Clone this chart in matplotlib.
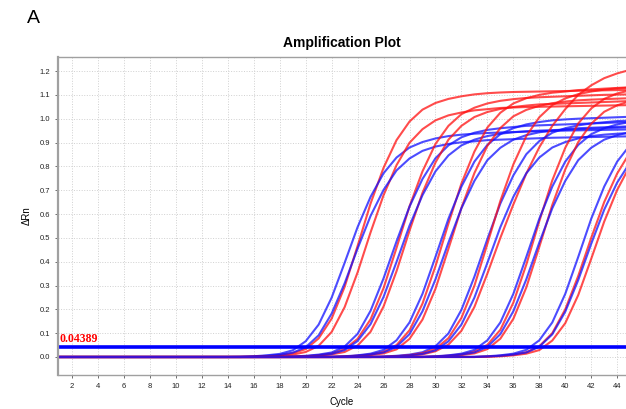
import numpy as np
import matplotlib
matplotlib.use('Agg')
import matplotlib.pyplot as plt

plt.rcParams['font.family'] = ['Liberation Sans', 'DejaVu Sans']

# cycles 1..45, each curve given from its first non-zero cycle up to cycle 45
cycles = list(range(1, 46))
threshold = 0.04389

# group 1
b1a = [0.001, 0.003, 0.007, 0.013, 0.028, 0.066, 0.136, 0.249, 0.395, 0.545,
       0.672, 0.771, 0.837, 0.879, 0.902, 0.917, 0.927, 0.933, 0.937, 0.940,
       0.942, 0.944, 0.946, 0.947, 0.948, 0.950, 0.951, 0.952, 0.953, 0.954, 0.955]
b1b = [0.002, 0.005, 0.009, 0.018, 0.041, 0.091, 0.182, 0.309, 0.455, 0.592,
       0.701, 0.783, 0.833, 0.865, 0.883, 0.894, 0.901, 0.905, 0.910, 0.912,
       0.914, 0.916, 0.918, 0.920, 0.921, 0.922, 0.923, 0.924, 0.925, 0.926]
r1a = [0.001, 0.003, 0.008, 0.016, 0.033, 0.078, 0.161, 0.294, 0.466, 0.644,
       0.794, 0.910, 0.988, 1.038, 1.066, 1.083, 1.094, 1.102, 1.107, 1.110,
       1.112, 1.113, 1.114, 1.115, 1.116, 1.117, 1.118, 1.119, 1.120, 1.120]
r1b = [0.002, 0.005, 0.010, 0.021, 0.047, 0.105, 0.209, 0.355, 0.523, 0.679,
       0.805, 0.899, 0.956, 0.993, 1.014, 1.026, 1.035, 1.040, 1.045, 1.047,
       1.049, 1.050, 1.051, 1.052, 1.053, 1.054, 1.055, 1.056, 1.057]
# group 2
b2a = [0.002, 0.005, 0.010, 0.019, 0.044, 0.097, 0.194, 0.330, 0.485, 0.631,
       0.747, 0.834, 0.888, 0.922, 0.941, 0.953, 0.960, 0.965, 0.970, 0.972,
       0.974, 0.976, 0.978, 0.980, 0.982, 0.984, 0.986]
b2b = [0.001, 0.003, 0.007, 0.013, 0.029, 0.067, 0.138, 0.252, 0.399, 0.551,
       0.679, 0.779, 0.846, 0.888, 0.912, 0.927, 0.937, 0.943, 0.947, 0.950,
       0.952, 0.954, 0.956, 0.958, 0.960, 0.962, 0.964]
r2a = [0.001, 0.003, 0.008, 0.015, 0.033, 0.076, 0.158, 0.289, 0.458, 0.632,
       0.779, 0.894, 0.970, 1.019, 1.046, 1.064, 1.075, 1.082, 1.087, 1.090,
       1.092, 1.094, 1.096, 1.098, 1.100, 1.101, 1.102]
r2b = [0.002, 0.005, 0.011, 0.021, 0.048, 0.106, 0.212, 0.360, 0.530, 0.689,
       0.816, 0.912, 0.970, 1.007, 1.028, 1.041, 1.049, 1.055, 1.060, 1.062,
       1.064, 1.066, 1.068, 1.070, 1.072, 1.074]
# group 3
b3a = [0.001, 0.003, 0.007, 0.014, 0.030, 0.070, 0.145, 0.265, 0.420, 0.580,
       0.715, 0.820, 0.890, 0.935, 0.960, 0.976, 0.986, 0.993, 0.997, 1.000,
       1.002, 1.004, 1.006, 1.008]
b3b = [0.002, 0.005, 0.010, 0.019, 0.043, 0.096, 0.192, 0.326, 0.480, 0.624,
       0.739, 0.826, 0.878, 0.912, 0.931, 0.943, 0.950, 0.955, 0.960, 0.962,
       0.964, 0.966, 0.968]
r3a = [0.002, 0.006, 0.011, 0.022, 0.050, 0.112, 0.224, 0.381, 0.560, 0.728,
       0.862, 0.963, 1.025, 1.064, 1.086, 1.100, 1.109, 1.114, 1.120, 1.123,
       1.126, 1.129, 1.132]
r3b = [0.001, 0.003, 0.008, 0.015, 0.032, 0.076, 0.157, 0.286, 0.454, 0.626,
       0.772, 0.886, 0.961, 1.010, 1.037, 1.054, 1.065, 1.072, 1.077, 1.080,
       1.082, 1.084, 1.086]
# group 4
b4a = [0.002, 0.005, 0.010, 0.020, 0.045, 0.099, 0.198, 0.337, 0.495, 0.644,
       0.762, 0.851, 0.906, 0.941, 0.960, 0.972, 0.980, 0.985, 0.990, 0.992]
b4b = [0.001, 0.003, 0.007, 0.013, 0.028, 0.066, 0.136, 0.249, 0.395, 0.545,
       0.672, 0.771, 0.837, 0.879, 0.902, 0.917, 0.927, 0.933, 0.937, 0.940]
r4a = [0.002, 0.005, 0.011, 0.024, 0.052, 0.110, 0.210, 0.350, 0.500, 0.640,
       0.770, 0.880, 0.970, 1.040, 1.100, 1.140, 1.170, 1.190, 1.205]
r4b = [0.001, 0.003, 0.008, 0.016, 0.034, 0.079, 0.164, 0.299, 0.475, 0.655,
       0.808, 0.927, 1.006, 1.057, 1.085, 1.103, 1.114, 1.122, 1.127, 1.130]
# group 5
b5a = [0.001, 0.003, 0.007, 0.014, 0.030, 0.070, 0.145, 0.265, 0.420, 0.580,
       0.715, 0.820, 0.890, 0.935, 0.960, 0.976, 0.986]
b5b = [0.002, 0.005, 0.010, 0.019, 0.043, 0.096, 0.192, 0.326, 0.480, 0.624,
       0.739, 0.826, 0.878, 0.912, 0.931, 0.943]
r5a = [0.002, 0.006, 0.011, 0.023, 0.051, 0.114, 0.228, 0.388, 0.570, 0.741,
       0.878, 0.980, 1.043, 1.083, 1.106, 1.119]
r5b = [0.001, 0.003, 0.008, 0.015, 0.033, 0.077, 0.160, 0.292, 0.462, 0.638,
       0.787, 0.902, 0.979, 1.029, 1.056, 1.074]
# group 6
b6a = [0.001, 0.003, 0.007, 0.014, 0.030, 0.070, 0.145, 0.265, 0.420, 0.580,
       0.715, 0.820, 0.890]
b6b = [0.002, 0.005, 0.010, 0.019, 0.043, 0.095, 0.190, 0.323, 0.475, 0.618,
       0.732, 0.817]
r6a = [0.002, 0.005, 0.010, 0.020, 0.045, 0.100, 0.200, 0.340, 0.500, 0.650,
       0.770, 0.860]
r6b = [0.001, 0.003, 0.007, 0.014, 0.029, 0.069, 0.142, 0.260, 0.412, 0.568,
       0.701, 0.804]

blue_curves = [b1a, b1b, b2a, b2b, b3a, b3b, b4a, b4b, b5a, b5b, b6a, b6b]
red_curves = [r1a, r1b, r2a, r2b, r3a, r3b, r4a, r4b, r5a, r5b, r6a, r6b]


def pad(vals):
    # baseline is flat at 0 before the curve starts rising
    return [0.0] * (len(cycles) - len(vals)) + vals


fig = plt.figure(figsize=(6.26, 4.09), dpi=100)
ax = fig.add_axes([0.0927, 0.0831, 0.9073, 0.7775])

for r, b in zip(red_curves, blue_curves):
    ax.plot(cycles, pad(r), color='#ff1010', lw=1.5, alpha=0.75)
    ax.plot(cycles, pad(b), color='#1010ff', lw=1.5, alpha=0.75)

ax.axhline(threshold, color='#0000ff', lw=2.6)
ax.text(1.0, threshold + 0.008, '%.5f' % threshold, color='red',
        family='Liberation Serif', fontweight='bold', fontsize=8.5,
        va='bottom', ha='left')

ax.set_xlim(0.92, 44.68)
ax.set_ylim(-0.0756, 1.2588)
ax.set_xticks(range(2, 45, 2))
ax.set_yticks(np.arange(0, 1.21, 0.1))
ax.set_yticklabels(['%.1f' % v for v in np.arange(0, 1.21, 0.1)])
ax.tick_params(labelsize=5.5, length=2, width=0.6, colors='#555555',
               labelcolor='#222222')
ax.grid(color='#d0d0d0', linestyle=':', linewidth=0.7)
for s in ['left', 'bottom', 'top']:
    ax.spines[s].set_color('#a0a0a0')
    ax.spines[s].set_linewidth(1.0)
ax.spines['left'].set_linewidth(1.6)
ax.spines['right'].set_visible(False)

ax.set_title('Amplification Plot', fontsize=10, fontweight='bold', pad=7)
ax.set_xlabel('Cycle', fontsize=7, labelpad=5)
ax.set_ylabel('ΔRn', fontsize=7, labelpad=6)
fig.text(0.043, 0.955, 'A', fontsize=14, ha='left', va='center')

fig.savefig('out.png', dpi=100)
